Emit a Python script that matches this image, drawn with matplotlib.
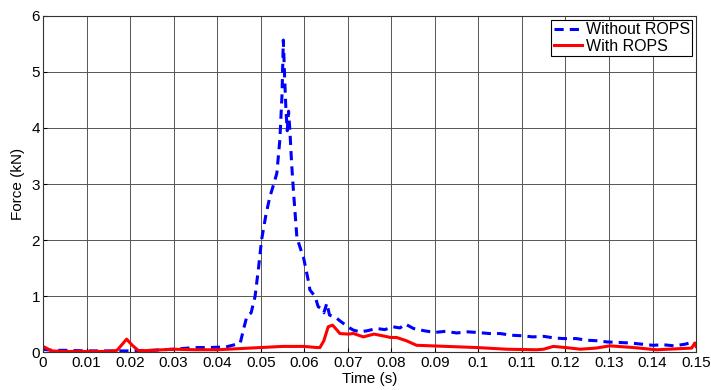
import matplotlib
matplotlib.use("Agg")
import matplotlib.pyplot as plt

plt.rcParams['font.family'] = ['Liberation Sans', 'DejaVu Sans']

# Without ROPS (blue dashed)
t_without = [0.0, 0.002, 0.005, 0.01, 0.015, 0.02, 0.025, 0.03, 0.035, 0.038, 0.042, 0.0445,
             0.0453, 0.0462, 0.0468, 0.0478, 0.0487, 0.0495, 0.0502, 0.0512, 0.0521, 0.0530,
             0.0537, 0.0544, 0.0549, 0.0552, 0.0555, 0.0558, 0.0561, 0.0564, 0.0567, 0.0571,
             0.0575, 0.0579, 0.0583, 0.0587, 0.0590, 0.0594, 0.0598, 0.0602, 0.0606, 0.0610,
             0.0613, 0.0619, 0.0625, 0.0632, 0.0638, 0.0645, 0.0652, 0.0658, 0.0667, 0.0675,
             0.0683, 0.0690, 0.0700, 0.0713, 0.0728, 0.0745, 0.0766, 0.0785, 0.0804, 0.0820,
             0.0832, 0.0851, 0.0875, 0.0900, 0.0925, 0.0950, 0.0975, 0.0996, 0.1025, 0.1050,
             0.1075, 0.1100, 0.1125, 0.1150, 0.1175, 0.1196, 0.1225, 0.1250, 0.1275, 0.1295,
             0.1325, 0.1350, 0.1375, 0.1401, 0.1425, 0.1450, 0.1475, 0.1494, 0.1500]
f_without = [0.05, 0.03, 0.03, 0.02, 0.02, 0.02, 0.03, 0.05, 0.08, 0.08, 0.09, 0.14,
             0.16, 0.45, 0.63, 0.70, 0.99, 1.50, 2.00, 2.45, 2.77, 3.00,
             3.19, 3.79, 4.60, 5.57, 4.90, 4.32, 3.95, 4.30, 3.96, 3.37,
             2.90, 2.48, 2.06, 1.95, 1.88, 1.78, 1.70, 1.55, 1.40, 1.25,
             1.11, 1.05, 0.99, 0.81, 0.78, 0.70, 0.87, 0.66, 0.63, 0.60,
             0.55, 0.51, 0.45, 0.39, 0.36, 0.38, 0.42, 0.40, 0.45, 0.43,
             0.50, 0.42, 0.38, 0.35, 0.37, 0.34, 0.36, 0.35, 0.33, 0.33,
             0.30, 0.29, 0.27, 0.28, 0.25, 0.24, 0.24, 0.21, 0.20, 0.18,
             0.17, 0.16, 0.14, 0.12, 0.13, 0.11, 0.14, 0.18, 0.13]

# With ROPS (red solid)
t_with = [0.0, 0.001, 0.002, 0.005, 0.01, 0.015, 0.017, 0.018, 0.0192, 0.0205, 0.022, 0.025,
          0.03, 0.035, 0.04, 0.045, 0.05, 0.055, 0.06, 0.0628, 0.0636, 0.0645, 0.0655, 0.0665,
          0.0672, 0.0682, 0.0700, 0.0713, 0.0736, 0.0760, 0.0780, 0.0798, 0.0812, 0.0835,
          0.0858, 0.0927, 0.0996, 0.1065, 0.1134, 0.1150, 0.1172, 0.1200, 0.1234, 0.1270,
          0.1302, 0.1356, 0.1409, 0.1463, 0.1490, 0.1497, 0.1500]
f_with = [0.10, 0.06, 0.02, 0.01, 0.01, 0.01, 0.03, 0.12, 0.23, 0.12, 0.02, 0.03,
          0.05, 0.04, 0.04, 0.06, 0.08, 0.10, 0.10, 0.08, 0.08, 0.20, 0.45, 0.48,
          0.42, 0.33, 0.32, 0.33, 0.27, 0.32, 0.29, 0.26, 0.26, 0.20,
          0.12, 0.10, 0.08, 0.05, 0.04, 0.05, 0.10, 0.08, 0.05, 0.07,
          0.11, 0.08, 0.04, 0.06, 0.07, 0.16, 0.10]

x_ticks = [0, 0.01, 0.02, 0.03, 0.04, 0.05, 0.06, 0.07, 0.08, 0.09, 0.1, 0.11, 0.12, 0.13, 0.14, 0.15]
x_tick_labels = ['0', '0.01', '0.02', '0.03', '0.04', '0.05', '0.06', '0.07', '0.08', '0.09',
                 '0.1', '0.11', '0.12', '0.13', '0.14', '0.15']
y_ticks = [0, 1, 2, 3, 4, 5, 6]

fig = plt.figure(figsize=(7.11, 3.9), dpi=100)
ax = fig.add_axes([0.0605, 0.0974, 0.9185, 0.8616])

ax.plot(t_without, f_without, color='#0000ff', linestyle='--', linewidth=2.2,
        dashes=(3, 2), label='Without ROPS')
ax.plot(t_with, f_with, color='#ff0000', linestyle='-', linewidth=2.2, label='With ROPS')

ax.set_xlim(0, 0.15)
ax.set_ylim(0, 6)
ax.set_xticks(x_ticks)
ax.set_xticklabels(x_tick_labels)
ax.set_yticks(y_ticks)
ax.grid(True, color='#555555', linewidth=0.7, linestyle='-')
ax.set_axisbelow(True)
ax.tick_params(axis='x', direction='in', length=3, labelsize=11, pad=3, colors='black')
ax.tick_params(axis='y', direction='in', length=3, labelsize=11, pad=2, colors='black')
for s in ax.spines.values():
    s.set_color('#333333')
    s.set_linewidth(0.8)

ax.set_xlabel('Time (s)', fontsize=11, labelpad=1)
ax.set_ylabel('Force (kN)', fontsize=11, labelpad=5)

leg = ax.legend(loc='upper right', fontsize=11.5, frameon=True, fancybox=False,
                borderaxespad=0.25, handlelength=1.8, handletextpad=0.2,
                borderpad=0.15, labelspacing=0.1)
leg.get_frame().set_edgecolor('black')
leg.get_frame().set_linewidth(0.8)
leg.get_frame().set_alpha(1)

fig.savefig('out.png', dpi=100)
